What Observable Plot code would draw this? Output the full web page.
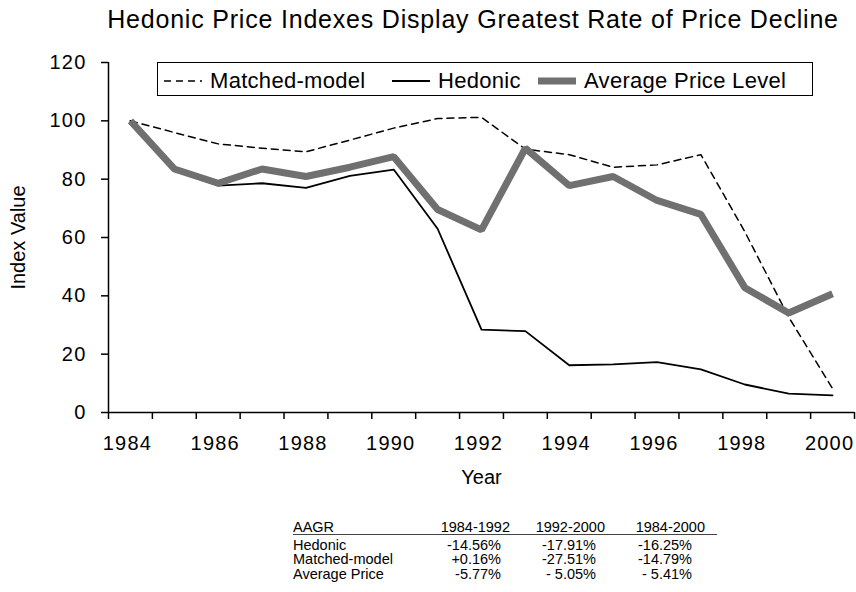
<!DOCTYPE html>
<html>
<head>
<meta charset="utf-8">
<script src="https://cdn.jsdelivr.net/npm/d3@7"></script>
<script src="https://cdn.jsdelivr.net/npm/@observablehq/plot@0.6"></script>
<style>
  html, body { margin: 0; padding: 0; background: #fff; }
  body { font-family: "Liberation Sans", Arial, Helvetica, sans-serif; color: #000; }
  #wrap { position: relative; width: 856px; height: 592px; overflow: hidden; }
  #title { position: absolute; left: 0; width: 946px; top: 7px; text-align: center; font-size: 25px; letter-spacing: 0.8px; line-height: 25px; white-space: nowrap; }
  #chart { position: absolute; left: 0; top: 45px; }
  #legend { position: absolute; left: 157px; top: 62px; width: 654px; height: 32px; border: 1.5px solid #000; background: #fff; font-size: 22px; letter-spacing: 0.3px; }
  .item { position: absolute; top: 2px; height: 32px; display: flex; align-items: center; white-space: nowrap; }
  .item svg { margin-right: 8px; }
  .cell { position: absolute; font-size: 14.5px; line-height: 15px; white-space: nowrap; }
  .r { text-align: right; }
  #rule { position: absolute; left: 293px; width: 424px; top: 533.5px; height: 0; border-top: 1px solid #444; }
</style>
</head>
<body>
<div id="wrap">
  <div id="title"></div>
  <div id="chart"></div>
  <div id="legend"></div>
  <div id="table"></div>
  <div id="rule"></div>
</div>
<script>
const titleText = "Hedonic Price Indexes Display Greatest Rate of Price Decline";
const yLabel = "Index Value";
const xLabel = "Year";

const years = [1984, 1985, 1986, 1987, 1988, 1989, 1990, 1991, 1992, 1993, 1994, 1995, 1996, 1997, 1998, 1999, 2000];
const matched = [100, 96.0, 92.1, 90.6, 89.4, 93.4, 97.5, 100.8, 101.2, 90.3, 88.4, 84.1, 84.9, 88.4, 62.0, 32.7, 8.2];
const hedonic = [100, 83.0, 77.8, 78.6, 77.0, 81.1, 83.3, 63.0, 28.4, 27.9, 16.2, 16.5, 17.3, 14.8, 9.6, 6.5, 5.9];
const average = [100, 83.5, 78.6, 83.5, 80.9, 84.1, 87.7, 69.6, 62.6, 90.6, 77.8, 80.9, 72.7, 67.9, 42.8, 34.1, 40.7];

const seriesNames = ["Matched-model", "Hedonic", "Average Price Level"];
const yTicks = [0, 20, 40, 60, 80, 100, 120];
const xTickLabels = [1984, 1986, 1988, 1990, 1992, 1994, 1996, 1998, 2000];

const tableHeader = ["AAGR", "1984-1992", "1992-2000", "1984-2000"];
const tableRows = ["Hedonic", "Matched-model", "Average Price"];
const hedonicAagr = ["-14.56%", "-17.91%", "-16.25%"];
const matchedAagr = ["+0.16%", "-27.51%", "-14.79%"];
const averageAagr = ["-5.77%", "- 5.05%", "- 5.41%"];

document.getElementById("title").textContent = titleText;

const toRows = (vals) => years.map((year, i) => ({year, value: vals[i]}));
const bounds = [...years.map(y => y - 0.5), years[years.length - 1] + 0.5];

const styleMatched = {stroke: "#000", strokeWidth: 1.5, strokeDasharray: "7,5"};
const styleHedonic = {stroke: "#000", strokeWidth: 1.8};
const styleAverage = {stroke: "#707070", strokeWidth: 7};

const plot = Plot.plot({
  width: 856,
  height: 442,
  marginTop: 17,
  marginBottom: 75,
  marginLeft: 108,
  marginRight: 2,
  style: {fontFamily: "'Liberation Sans', Arial, Helvetica, sans-serif", fontSize: "20px", letterSpacing: "1.2px", color: "#000", background: "transparent", overflow: "visible"},
  x: {domain: [bounds[0], bounds[bounds.length - 1]]},
  y: {domain: [0, 120]},
  marks: [
    Plot.ruleX([bounds[0]], {y1: 0, y2: 120, stroke: "#000", strokeWidth: 1.5}),
    Plot.ruleY([0], {stroke: "#000", strokeWidth: 1.5}),
    Plot.axisY({ticks: yTicks, tickSize: 7, tickPadding: 15, label: null, strokeWidth: 1.5}),
    Plot.axisX({ticks: bounds, tickSize: 7, tickFormat: () => "", label: null, strokeWidth: 1.5}),
    Plot.axisX({ticks: xTickLabels, tickSize: 0, tickPadding: 23, tickFormat: d => String(d), label: null, dx: -3}),
    Plot.line(toRows(matched), {x: "year", y: "value", ...styleMatched}),
    Plot.line(toRows(hedonic), {x: "year", y: "value", ...styleHedonic}),
    Plot.line(toRows(average), {x: "year", y: "value", ...styleAverage, strokeLinecap: "butt", strokeLinejoin: "miter"}),
    Plot.text([yLabel], {frameAnchor: "left", dx: -90, rotate: -90, fontSize: 20, textAnchor: "middle", lineAnchor: "middle"}),
    Plot.text([xLabel], {frameAnchor: "bottom", dy: 65, fontSize: 20, textAnchor: "middle", lineAnchor: "middle"})
  ]
});
d3.select(plot).selectAll("text")
  .filter(function() { return this.textContent === yLabel || this.textContent === xLabel; })
  .style("letter-spacing", "0px");
document.getElementById("chart").appendChild(plot);

// Legend
const legend = document.getElementById("legend");
const legendStyles = [styleMatched, styleHedonic, styleAverage];
const legendLefts = [6, 234, 380];
seriesNames.forEach((name, i) => {
  const s = legendStyles[i];
  const item = document.createElement("div");
  item.className = "item";
  item.style.left = legendLefts[i] + "px";
  item.innerHTML = `<svg width="38" height="10"><line x1="0" y1="5" x2="38" y2="5" stroke="${s.stroke}" stroke-width="${s.strokeWidth}" ${s.strokeDasharray ? `stroke-dasharray="${s.strokeDasharray}"` : ""}/></svg><span></span>`;
  item.querySelector("span").textContent = name;
  legend.appendChild(item);
});

// Table
const table = document.getElementById("table");
const headerRights = [510, 605, 705];
const valueRights = [501, 596, 692];
const rowTops = [537.5, 552, 566.5];
function cell(text, left, top, right) {
  const d = document.createElement("div");
  d.className = "cell" + (right ? " r" : "");
  d.textContent = text;
  if (right) { d.style.right = (856 - left) + "px"; } else { d.style.left = left + "px"; }
  d.style.top = top + "px";
  table.appendChild(d);
}
cell(tableHeader[0], 293, 519.5, false);
tableHeader.slice(1).forEach((h, j) => cell(h, headerRights[j], 519.5, true));
const rowValues = [hedonicAagr, matchedAagr, averageAagr];
tableRows.forEach((name, i) => {
  cell(name, 293, rowTops[i], false);
  rowValues[i].forEach((v, j) => cell(v, valueRights[j], rowTops[i], true));
});
</script>
</body>
</html>
